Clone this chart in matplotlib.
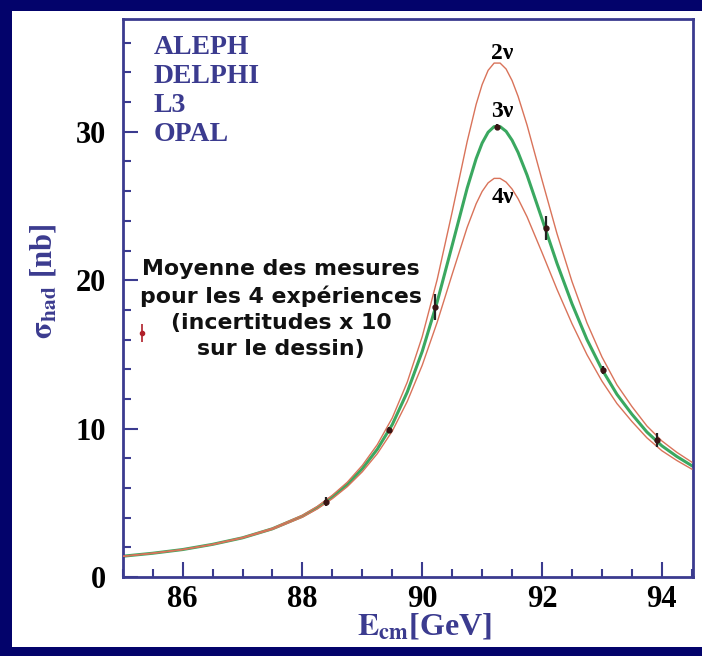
import numpy as np
import matplotlib
matplotlib.use("Agg")
import matplotlib.pyplot as plt
from matplotlib.patches import Rectangle
from matplotlib.ticker import MultipleLocator

# curves (E in GeV, sigma in nb)
e_curve = [85.0, 85.5, 86.0, 86.5, 87.0, 87.5, 88.0, 88.25, 88.5, 88.75, 89.0, 89.25,
           89.5, 89.75, 90.0, 90.25, 90.5, 90.75, 90.9, 91.0, 91.1, 91.2, 91.3, 91.4,
           91.5, 91.6, 91.75, 92.0, 92.25, 92.5, 92.75, 93.0, 93.25, 93.5, 93.75, 94.0,
           94.25, 94.5]
sig_2nu = [1.40, 1.61, 1.86, 2.21, 2.67, 3.29, 4.16, 4.76, 5.51, 6.39, 7.52, 8.92,
           10.72, 13.13, 16.20, 20.05, 24.60, 29.34, 31.85, 33.18, 34.14, 34.63, 34.63, 34.23,
           33.45, 32.39, 30.45, 26.75, 23.13, 19.91, 17.12, 14.83, 12.95, 11.49, 10.18, 9.17,
           8.40, 7.74]
sig_3nu = [1.40, 1.60, 1.85, 2.20, 2.64, 3.25, 4.10, 4.68, 5.40, 6.24, 7.30, 8.61,
           10.27, 12.46, 15.20, 18.54, 22.35, 26.20, 28.19, 29.24, 29.97, 30.35, 30.35, 30.03,
           29.43, 28.61, 27.08, 24.12, 21.13, 18.41, 16.00, 13.99, 12.31, 10.97, 9.77, 8.84,
           8.12, 7.50]
sig_4nu = [1.39, 1.59, 1.84, 2.18, 2.62, 3.21, 4.03, 4.59, 5.28, 6.09, 7.09, 8.31,
           9.83, 11.83, 14.27, 17.17, 20.40, 23.56, 25.15, 25.98, 26.56, 26.86, 26.86, 26.61,
           26.14, 25.49, 24.27, 21.86, 19.38, 17.07, 14.98, 13.20, 11.69, 10.48, 9.38, 8.51,
           7.85, 7.27]

# measured points (errors drawn x10)
e_meas = [88.39, 89.44, 90.21, 91.25, 92.06, 93.02, 93.92]
sig_meas = [5.06, 9.91, 18.2, 30.35, 23.5, 13.96, 9.24]
err_meas = [0.30, 0.20, 0.85, 0.20, 0.80, 0.25, 0.45]

# lone sample point next to the text
e_sample = [85.32]
sig_sample = [16.45]
err_sample = [0.6]

experiments = ["ALEPH", "DELPHI", "L3", "OPAL"]
note = "Moyenne des mesures\npour les 4 expériences\n(incertitudes x 10\nsur le dessin)"

navy = "#03036b"
axcol = "#3b3b8f"

plt.rcParams["font.family"] = ["Liberation Serif", "DejaVu Serif"]
plt.rcParams["mathtext.fontset"] = "stix"

fig = plt.figure(figsize=(7.02, 6.56), dpi=100, facecolor=navy)
fig.patches.append(Rectangle((12 / 702, 9 / 656), 690 / 702, 636 / 656,
                             transform=fig.transFigure, facecolor="white",
                             edgecolor="none", zorder=-10))

ax = fig.add_axes([122.7 / 702, 79 / 656, 570.3 / 702, 558 / 656])
ax.set_facecolor("white")

ax.plot(e_curve, sig_3nu, color="#3aa860", lw=2.2, zorder=2)
ax.plot(e_curve, sig_2nu, color="#d9735a", lw=1.0, zorder=3)
ax.plot(e_curve, sig_4nu, color="#d9735a", lw=1.0, zorder=3)

ax.errorbar(e_meas, sig_meas, yerr=err_meas, fmt="o", ms=3.5, color="#3a1414",
            ecolor="#222222", elinewidth=1.6, capsize=0, zorder=4)
ax.errorbar(e_sample, sig_sample, yerr=err_sample, fmt="o", ms=3, color="#b0202a",
            ecolor="#b0202a", elinewidth=1.2, capsize=0, zorder=4)

ax.set_xlim(85.0, 94.52)
ax.set_ylim(0, 37.6)
ax.xaxis.set_major_locator(MultipleLocator(2))
ax.xaxis.set_minor_locator(MultipleLocator(0.5))
ax.yaxis.set_major_locator(MultipleLocator(10))
ax.yaxis.set_minor_locator(MultipleLocator(2))
ax.tick_params(which="both", direction="in", color=axcol, width=1.5,
               top=False, right=False)
ax.tick_params(which="major", length=11, labelsize=22, pad=6)
ax.tick_params(which="minor", length=5.5)
ax.tick_params(axis="y", which="major", pad=12)
for lab in ax.get_xticklabels() + ax.get_yticklabels():
    lab.set_fontweight("bold")
for sp in ax.spines.values():
    sp.set_color(axcol)
    sp.set_linewidth(2.0)

ax.set_xlabel(r"$\mathbf{E_{cm}}$[GeV]", fontsize=23, fontweight="bold", color="#3b3b8f")
ax.xaxis.set_label_coords(0.53, -0.062)
ax.set_ylabel(r"$\mathbf{\sigma_{had}}$ [nb]", fontsize=22, fontweight="bold", color="#3b3b8f")
ax.yaxis.set_label_coords(-0.113, 0.53)

ax.text(85.52, 36.5, "\n".join(experiments), fontsize=20, fontweight="bold",
        color="#3b3b8f", va="top", ha="left", linespacing=1.2)

ax.text(91.34, 35.3, "2ν", fontsize=17, fontweight="bold", ha="center", va="center")
ax.text(91.34, 31.35, "3ν", fontsize=17, fontweight="bold", ha="center", va="center")
ax.text(91.34, 25.56, "4ν", fontsize=17, fontweight="bold", ha="center", va="center")

ax.text(87.64, 21.4, note, fontsize=15.8, fontweight="bold", family="DejaVu Sans",
        ha="center", va="top", linespacing=1.37, color="#111111")

fig.savefig("out.png", dpi=100, facecolor=navy)
